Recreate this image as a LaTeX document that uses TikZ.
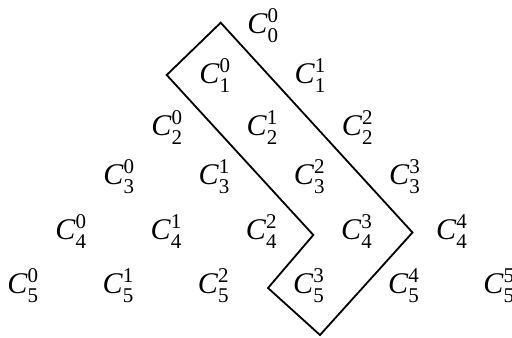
\documentclass[tikz,border=0pt]{standalone}
\usepackage{fontspec}
\setmainfont{Liberation Serif}
\newcommand\scrfont{\fontsize{10.5}{12}\selectfont}
\newcommand\binlab[2]{\textit{C}\rlap{\raisebox{5.5pt}{\scrfont #2}}\raisebox{-4.5pt}{\scrfont #1}}
\begin{document}
\begin{tikzpicture}[x=0.5pt,y=-0.5pt,
  lab/.style={anchor=base west,inner sep=0pt,font=\fontsize{15}{18}\selectfont},
  frame/.style={line width=0.9pt,line join=miter}]
\useasboundingbox (0,0) rectangle (512,337);
\clip (0,0) rectangle (512,337);
\foreach \n/\by in {0/33,1/83.5,2/135,3/184,4/239,5/293}{
  \foreach \k in {0,...,\n}{
    \node[lab] (c\n\k) at ({7+(5-\n)*48+\k*95.2},\by) {\binlab{\n}{\k}};
  }
}
\coordinate (p1) at (220.7,22.7);
\coordinate (p2) at (166.7,75);
\coordinate (p3) at (313.3,235);
\coordinate (p4) at (268,288);
\coordinate (p5) at (320,335);
\coordinate (p6) at (412.5,232.5);
\draw[frame] (p1) -- (p2) -- (p3) -- (p4) -- (p5) -- (p6) -- cycle;
\end{tikzpicture}
\end{document}
